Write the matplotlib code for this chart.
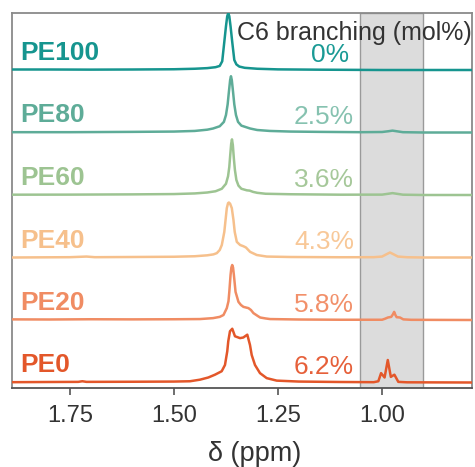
import matplotlib
matplotlib.use("Agg")
import matplotlib.pyplot as plt

plt.rcParams['font.family'] = ['Liberation Sans', 'DejaVu Sans']

# ---- data ----
samples = ["PE0", "PE20", "PE40", "PE60", "PE80", "PE100"]
branching = ["6.2%", "5.8%", "4.3%", "3.6%", "2.5%", "0%"]
colors = ["#e3572a", "#f08c63", "#f6c08c", "#9dc492", "#5eac98", "#16958f"]
pct_colors = ["#e6603a", "#f2906a", "#f8c898", "#a6c89a", "#86c2b0", "#1a9a95"]

pe0_ppm = [1.889, 1.80, 1.73, 1.72, 1.71, 1.60, 1.50, 1.4615, 1.4375, 1.4175, 1.4014, 1.3853,
           1.3774, 1.3719, 1.3695, 1.3654, 1.3599, 1.3534, 1.3413, 1.3334, 1.3238, 1.3173,
           1.3132, 1.3053, 1.2933, 1.2772, 1.2531, 1.20, 1.10, 1.02, 1.009, 1.0024, 0.994,
           0.9863, 0.979, 0.9704, 0.961, 0.94, 0.784]
pe0_int = [0.005, 0.008, 0.01, 0.02, 0.01, 0.012, 0.015, 0.02, 0.045, 0.08, 0.125, 0.18,
           0.28, 0.50, 0.66, 0.82, 0.86, 0.74, 0.71, 0.72, 0.765, 0.60,
           0.44, 0.28, 0.15, 0.07, 0.03, 0.015, 0.008, 0.005, 0.02, 0.15, 0.08,
           0.36, 0.09, 0.125, 0.01, 0.003, 0.0]

pe20_ppm = [1.889, 1.80, 1.70, 1.60, 1.50, 1.4375, 1.406, 1.39, 1.381, 1.373, 1.369, 1.367,
            1.364, 1.362, 1.360, 1.358, 1.356, 1.352, 1.345, 1.339, 1.333, 1.327, 1.321,
            1.315, 1.309, 1.30, 1.293, 1.28, 1.269, 1.20, 1.10, 1.00, 0.993, 0.986, 0.978,
            0.974, 0.971, 0.968, 0.965, 0.957, 0.949, 0.93, 0.784]
pe20_int = [0.01, 0.008, 0.012, 0.01, 0.012, 0.015, 0.03, 0.05, 0.08, 0.19, 0.30, 0.45,
            0.72, 0.84, 0.88, 0.84, 0.72, 0.45, 0.29, 0.24, 0.21, 0.20, 0.19,
            0.16, 0.11, 0.07, 0.04, 0.025, 0.015, 0.008, 0.004, 0.004, 0.02, 0.04, 0.05,
            0.09, 0.13, 0.08, 0.045, 0.04, 0.01, 0.003, 0.0]

pe40_ppm = [1.889, 1.75, 1.71, 1.69, 1.60, 1.50, 1.45, 1.42, 1.405, 1.397, 1.39, 1.385,
            1.379, 1.376, 1.373, 1.370, 1.368, 1.365, 1.361, 1.357, 1.354, 1.349, 1.341,
            1.333, 1.327, 1.317, 1.301, 1.277, 1.22, 1.10, 1.02, 1.00, 0.99, 0.981, 0.972,
            0.962, 0.94, 0.90, 0.784]
pe40_int = [0.0, 0.005, 0.015, 0.005, 0.008, 0.012, 0.02, 0.035, 0.05, 0.07, 0.12, 0.20,
            0.41, 0.60, 0.79, 0.87, 0.88, 0.86, 0.79, 0.60, 0.41, 0.25, 0.20,
            0.18, 0.16, 0.09, 0.04, 0.015, 0.008, 0.004, 0.005, 0.015, 0.05, 0.08, 0.05,
            0.015, 0.004, 0.0, 0.0]

pe60_ppm = [1.889, 1.75, 1.60, 1.50, 1.45, 1.42, 1.40, 1.385, 1.375, 1.370, 1.367, 1.365,
            1.3625, 1.3606, 1.3585, 1.356, 1.3535, 1.350, 1.345, 1.338, 1.325, 1.318, 1.31,
            1.30, 1.28, 1.22, 1.10, 1.00, 0.985, 0.975, 0.965, 0.95, 0.90, 0.784]
pe60_int = [0.005, 0.006, 0.01, 0.015, 0.025, 0.04, 0.06, 0.10, 0.18, 0.30, 0.45, 0.62,
            0.82, 0.89, 0.80, 0.58, 0.40, 0.24, 0.15, 0.10, 0.075, 0.07, 0.05,
            0.035, 0.02, 0.012, 0.005, 0.006, 0.02, 0.03, 0.02, 0.005, 0.0, 0.0]

pe80_ppm = [1.889, 1.75, 1.60, 1.50, 1.45, 1.42, 1.406, 1.39, 1.38, 1.375, 1.371, 1.368,
            1.365, 1.363, 1.361, 1.358, 1.355, 1.351, 1.346, 1.338, 1.317, 1.30, 1.27,
            1.22, 1.15, 1.05, 1.00, 0.985, 0.975, 0.965, 0.95, 0.90, 0.784]
pe80_int = [0.005, 0.005, 0.01, 0.015, 0.025, 0.045, 0.064, 0.10, 0.17, 0.28, 0.45, 0.65,
            0.84, 0.90, 0.84, 0.65, 0.45, 0.28, 0.17, 0.11, 0.064, 0.04, 0.025,
            0.015, 0.01, 0.005, 0.008, 0.02, 0.03, 0.02, 0.005, 0.0, 0.0]

pe100_ppm = [1.889, 1.80, 1.70, 1.60, 1.50, 1.45, 1.42, 1.40, 1.39, 1.384, 1.379, 1.375,
             1.372, 1.3695, 1.367, 1.364, 1.360, 1.355, 1.350, 1.343, 1.33, 1.30, 1.25,
             1.15, 1.00, 0.784]
pe100_int = [0.008, 0.008, 0.006, 0.008, 0.012, 0.02, 0.03, 0.045, 0.065, 0.14, 0.45, 0.70,
             0.86, 0.91, 0.86, 0.70, 0.45, 0.16, 0.09, 0.055, 0.035, 0.02, 0.01,
             0.005, 0.0, 0.0]

spectra_ppm = [pe0_ppm, pe20_ppm, pe40_ppm, pe60_ppm, pe80_ppm, pe100_ppm]
spectra_int = [pe0_int, pe20_int, pe40_int, pe60_int, pe80_int, pe100_int]

x_ticks = [1.75, 1.50, 1.25, 1.00]
x_ticklabels = ["1.75", "1.50", "1.25", "1.00"]
region = (1.053, 0.901)

# ---- figure ----
fig = plt.figure(figsize=(4.75, 4.67), dpi=100)
ax = fig.add_axes([12 / 475, 1 - 388 / 467, 460 / 475, 375 / 467])

ax.axvspan(region[0], region[1], facecolor="#dcdcdc", edgecolor="#9a9a9a", lw=1.0, zorder=0)

for i, (xs, ys) in enumerate(zip(spectra_ppm, spectra_int)):
    ax.plot(xs, [v + i for v in ys], color=colors[i], lw=1.8, zorder=3,
            solid_joinstyle="round", clip_on=True)
    ax.text(1.8685, i + 0.16, samples[i], color=colors[i], fontsize=19,
            fontweight="bold", ha="left", va="baseline", zorder=4)
    xr = 1.079 if branching[i] == "0%" else 1.067
    ax.text(xr, i + 0.13, branching[i], color=pct_colors[i], fontsize=19,
            ha="right", va="baseline", zorder=4)

ax.text(1.3486, 5.48, "C6 branching (mol%)", color="#333333", fontsize=18,
        ha="left", va="baseline", zorder=4)

ax.set_xlim(1.889, 0.784)
ax.set_ylim(-0.088, 5.912)
ax.set_yticks([])
ax.set_xticks(x_ticks)
ax.set_xticklabels(x_ticklabels)
ax.tick_params(axis="x", direction="out", length=5, width=1.2, color="#555555",
               labelsize=17, labelcolor="#333333", pad=7)
for name, sp in ax.spines.items():
    sp.set_color("#8a8a8a")
    sp.set_linewidth(1.3)
ax.spines["bottom"].set_color("#555555")

ax.set_xlabel("δ (ppm)", fontsize=19.5, color="#333333")
ax.xaxis.set_label_coords((254.5 - 12) / 460, -(461 - 388) / 375)
ax.xaxis.label.set_va("baseline")

fig.savefig("out.png", dpi=100)
